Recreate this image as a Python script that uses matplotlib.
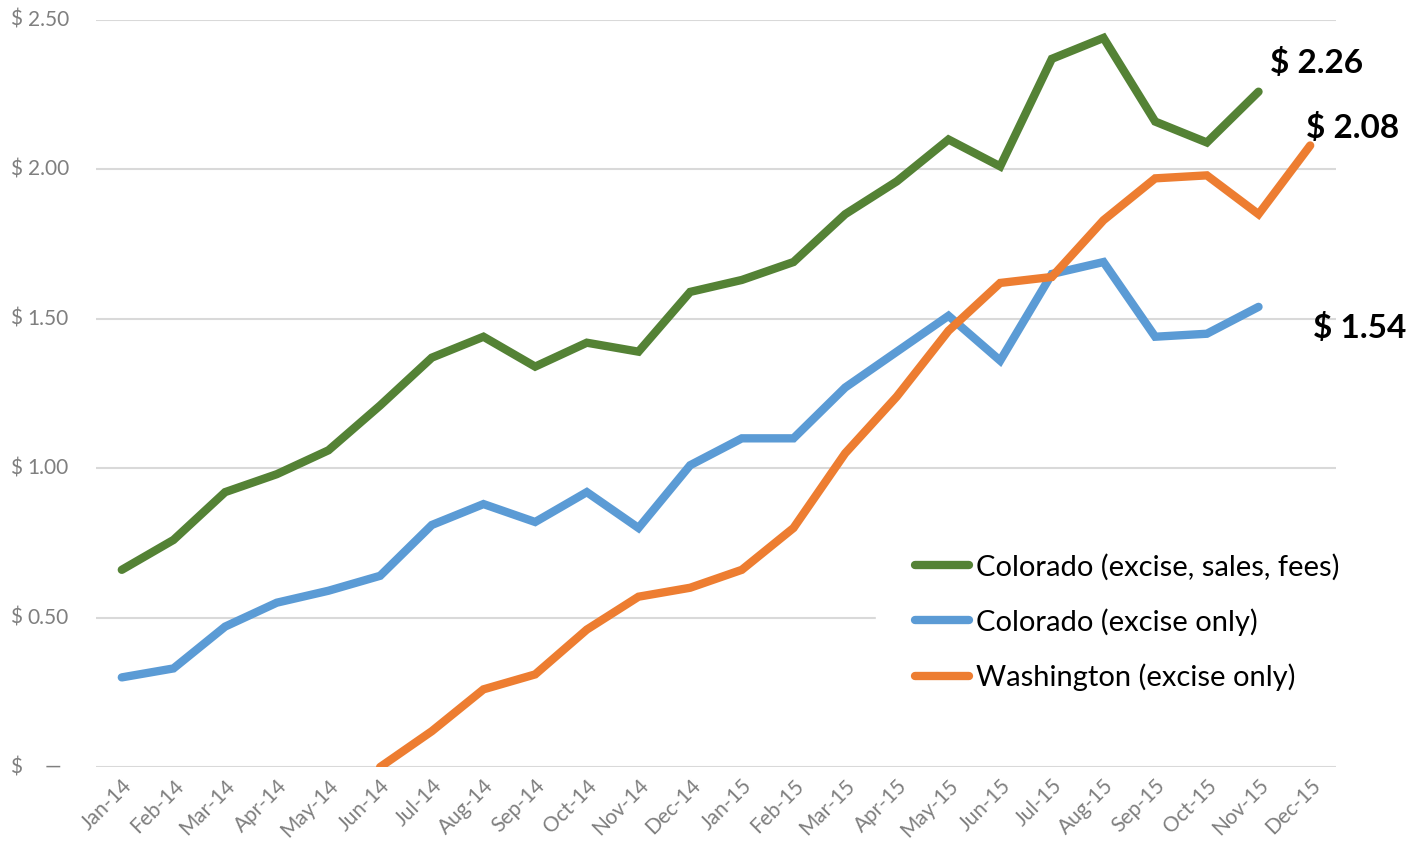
import numpy as np
import matplotlib
matplotlib.use("Agg")
import matplotlib.pyplot as plt
from matplotlib.transforms import blended_transform_factory

plt.rcParams['font.family'] = ['Lato', 'DejaVu Sans']

# data
months = ['Jan-14', 'Feb-14', 'Mar-14', 'Apr-14', 'May-14', 'Jun-14', 'Jul-14', 'Aug-14',
          'Sep-14', 'Oct-14', 'Nov-14', 'Dec-14', 'Jan-15', 'Feb-15', 'Mar-15', 'Apr-15',
          'May-15', 'Jun-15', 'Jul-15', 'Aug-15', 'Sep-15', 'Oct-15', 'Nov-15', 'Dec-15']

co_all = [0.66, 0.76, 0.92, 0.98, 1.06, 1.21, 1.37, 1.44, 1.34, 1.42, 1.39, 1.59,
          1.63, 1.69, 1.85, 1.96, 2.10, 2.01, 2.37, 2.44, 2.16, 2.09, 2.26, None]
co_excise = [0.30, 0.33, 0.47, 0.55, 0.59, 0.64, 0.81, 0.88, 0.82, 0.92, 0.80, 1.01,
             1.10, 1.10, 1.27, 1.39, 1.51, 1.36, 1.65, 1.69, 1.44, 1.45, 1.54, None]
wa_excise = [None, None, None, None, None, 0.0, 0.12, 0.26, 0.31, 0.46, 0.57, 0.60,
             0.66, 0.80, 1.05, 1.24, 1.46, 1.62, 1.64, 1.83, 1.97, 1.98, 1.85, 2.08]

labels = ['Colorado (excise, sales, fees)', 'Colorado (excise only)', 'Washington (excise only)']
colors = ['#548235', '#5B9BD5', '#ED7D31']

yticks = [0, 0.5, 1.0, 1.5, 2.0, 2.5]


def to_arr(v):
    return np.array([np.nan if a is None else a for a in v], dtype=float)


fig = plt.figure(figsize=(14.28, 8.5), dpi=100)
ax = fig.add_axes([0.0672, 0.0976, 0.8684, 0.8789])

x = np.arange(len(months))
for series, lab, c in zip([co_all, co_excise, wa_excise], labels, colors):
    ax.plot(x, to_arr(series), color=c, lw=6, label=lab,
            solid_capstyle='round', solid_joinstyle='miter', zorder=3)

ax.set_xlim(-0.5, len(months) - 0.5)
ax.set_ylim(0, 2.5)
ax.set_yticks(yticks)
ax.yaxis.grid(True, color='#D9D9D9', lw=1.5)
ax.set_axisbelow(True)
ax.tick_params(axis='y', length=0, labelleft=False)
ax.tick_params(axis='x', length=0, pad=6, labelsize=15, labelcolor='#7F7F7F')
ax.set_xticks(x)
ax.set_xticklabels(months, rotation=45, ha='right', rotation_mode='anchor')
for s in ax.spines.values():
    s.set_visible(False)

# accounting-style y labels
tr = blended_transform_factory(fig.transFigure, ax.transData)
for v in yticks:
    ax.text(10 / 1428, v, '$', transform=tr, ha='left', va='center',
            fontsize=15, color='#7F7F7F')
    if v == 0:
        ax.text(61 / 1428, v, '—', transform=tr, ha='right', va='center',
                fontsize=15, color='#7F7F7F')
    else:
        ax.text(69 / 1428, v, f'{v:.2f}', transform=tr, ha='right', va='center',
                fontsize=15, color='#7F7F7F')

# end labels
ax.annotate('$ 2.26', (22, 2.26), xytext=(8, 10), textcoords='offset points',
            fontsize=24, fontweight='bold', ha='left', va='bottom')
ax.annotate('$ 2.08', (23, 2.08), xytext=(-3, 2), textcoords='offset points',
            fontsize=24, fontweight='bold', ha='left', va='bottom')
ax.annotate('$ 1.54', (22, 1.54), xytext=(39, -15), textcoords='offset points',
            fontsize=24, fontweight='bold', ha='left', va='center')

leg = ax.legend(loc='upper left', bbox_to_anchor=(876 / 1428, 1 - 514 / 850),
                bbox_transform=fig.transFigure, fontsize=21, frameon=True,
                handlelength=1.85, handletextpad=0.22, labelspacing=0.95,
                borderaxespad=0, borderpad=1.35)
leg.get_frame().set_facecolor('white')
leg.get_frame().set_edgecolor('white')
leg.get_frame().set_alpha(1)
for h in leg.get_lines():
    h.set_linewidth(6)

fig.savefig('out.png', dpi=100)
